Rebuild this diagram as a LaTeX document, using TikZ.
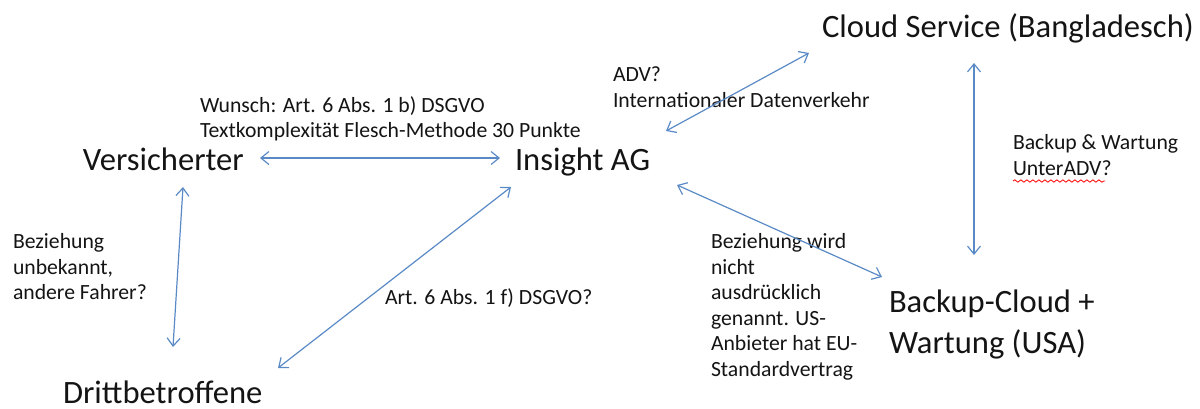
\documentclass[tikz,border=0pt]{standalone}
\usepackage{fontspec}
\setmainfont{Carlito}
\usetikzlibrary{arrows.meta,calc,decorations.pathmorphing}
\definecolor{arrblue}{RGB}{90,138,198}
\definecolor{txt}{RGB}{20,20,20}
\begin{document}
\begin{tikzpicture}[x=0.5pt,y=-0.5pt,
  big/.style={font=\fontsize{16.3}{20.5}\selectfont, inner sep=0pt, outer sep=0pt, text=txt, align=left},
  small/.style={font=\fontsize{10.85}{12.75}\selectfont, inner sep=0pt, outer sep=0pt, text=txt, align=left},
  arr/.style={draw=arrblue, line width=0.6pt, {Straight Barb[length=4pt,width=6.5pt]}-{Straight Barb[length=4pt,width=6.5pt]}},
  wavy/.style={draw=red, line width=0.4pt, decorate, decoration={snake, amplitude=0.6pt, segment length=3pt}}]
\useasboundingbox (0,0) rectangle (1200,408);
% main nodes
\node[big, anchor=base west] (cloud) at (822,37) {Cloud Service (Bangladesch)};
\node[big, anchor=base west] (vers) at (83,170) {Versicherter};
\node[big, anchor=base west] (insight) at (515,170) {Insight AG};
\node[big, anchor=base west] (dritt) at (63,403) {Drittbetroffene};
\node[big, anchor=west] (backupc) at (889,324) {Backup-Cloud +\\Wartung (USA)};
% labels
\node[small, anchor=west] (wunsch) at (200,119) {Wunsch: Art. 6 Abs. 1 b) DSGVO\\Textkomplexität Flesch-Methode 30 Punkte};
\node[small, anchor=west] (adv) at (613,87) {ADV?\\Internationaler Datenverkehr};
\node[small, anchor=west] (backupw) at (1013,155) {Backup \& Wartung\\UnterADV?};
\node[small, anchor=west] (bez1) at (13,267) {Beziehung\\unbekannt,\\andere Fahrer?};
\node[small, anchor=base west] (art6f) at (385,304) {Art. 6 Abs. 1 f) DSGVO?};
\node[small, anchor=west] (bez2) at (711,307) {Beziehung wird\\nicht\\ausdrücklich\\genannt. US-\\Anbieter hat EU-\\Standardvertrag};
% connectors
\draw[arr] ($(vers.base west)+(177,-12)$) -- ($(insight.base west)+(-15,-12)$);
\draw[arr] ($(insight.base west)+(151,-39)$) -- ($(cloud.base west)+(-13,16)$);
\draw[arr] ($(insight.base west)+(162,15)$) -- ($(backupc.west)+(-7,-47)$);
\draw[arr] ($(cloud.base west)+(152,26)$) -- ($(backupc.west)+(85,-69)$);
\draw[arr] ($(vers.base west)+(100,17)$) -- ($(dritt.base west)+(110,-56)$);
\draw[arr] ($(insight.base west)+(-4,17)$) -- ($(dritt.base west)+(215,-35)$);
% spell-check underline
\draw[wavy] (1013,181) -- (1105,181);
\end{tikzpicture}
\end{document}
